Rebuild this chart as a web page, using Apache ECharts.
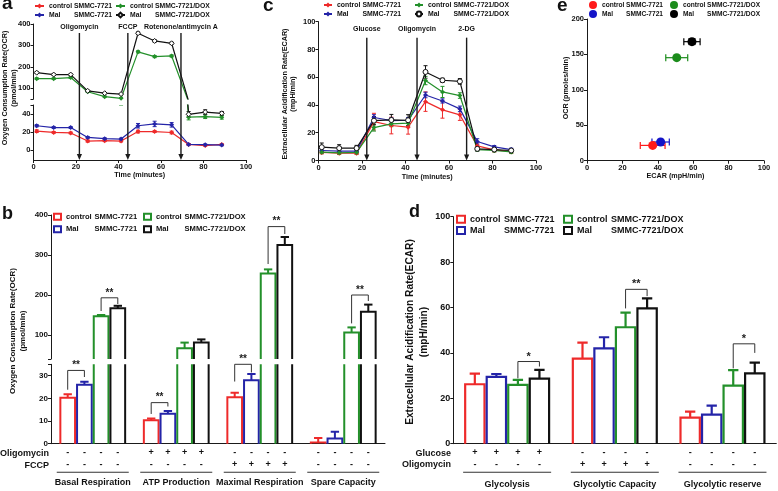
<!DOCTYPE html>
<html><head><meta charset="utf-8">
<script src="https://cdn.jsdelivr.net/npm/echarts@6/dist/echarts.min.js"></script>
<style>html,body{margin:0;padding:0;background:#fff}#main{width:778px;height:491px}</style>
</head><body><div id="main"></div>
<script>
// ---------------- DATA ----------------
const groupWord = ['control', 'Mal', 'control', 'Mal'];
const lineWord = ['SMMC-7721', 'SMMC-7721', 'SMMC-7721/DOX', 'SMMC-7721/DOX'];

// panel a (OCR time course)
const timeMin = [1.5, 9.5, 17.5, 25.5, 33.5, 41.2, 49.2, 57, 65, 73, 80.8, 88.6];
const ocrCtrl = [21, 19.6, 19, 10, 10.4, 10, 20.5, 20.5, 19.5, 6.3, 5, 6.3];
const ocrMal = [27, 25, 25, 14, 12.6, 12.2, 27, 29, 28, 6.3, 6, 5.5];
const ocrCtrlDox = [145, 145, 150, 84, 61, 53, 270, 248, 251, 36.5, 37, 36.3];
const ocrMalDox = [173, 164, 164, 88, 77, 73, 357, 321, 310, 39.7, 42.2, 40.8];
const ocrCtrlErr = [1.5, 1, 1, 1.2, 1, 1, 1.5, 1, 1.5, 0.8, 0.8, 0.8];
const ocrMalErr = [1.2, 1, 1, 1, 1, 1, 2.5, 3, 2.5, 0.8, 0.8, 0.8];
const ocrCtrlDoxErr = [4, 4, 4, 3, 3, 3, 5, 5, 5, 3, 2, 2];
const ocrMalDoxErr = [4, 4, 4, 3, 3, 3, 6, 6, 5, 3, 2.5, 2];
const injectA = [21.6, 44.4, 69.4];
const injectALabels = ['Oligomycin', 'FCCP', 'Rotenone/antimycin A'];

// panel c (ECAR time course)
const ecarCtrl = [5.8, 5.3, 5.3, 28, 25.2, 24, 42.4, 36.5, 32.9, 10.5, 7.7, 6.5];
const ecarMal = [7.2, 6.7, 6.7, 31, 28.8, 29, 47.2, 42.9, 37.2, 13.7, 9.8, 7.9];
const ecarCtrlDox = [6, 5.5, 5.8, 23.7, 26.4, 26.9, 57.6, 49.4, 46.8, 7.9, 7.2, 6.2];
const ecarMalDox = [9.6, 8.9, 8.9, 28.7, 29.2, 29, 63.8, 57.8, 57, 8.4, 7.9, 7.2];
const ecarCtrlErr = [1, 1, 1, 6, 6, 5, 7, 6, 4, 2, 1.5, 1.5];
const ecarMalErr = [1, 1, 1, 2, 2, 2, 2, 1.5, 2, 2, 1, 1];
const ecarCtrlDoxErr = [1, 1, 1, 2.5, 2, 2, 3, 4, 2, 1, 1, 1];
const ecarMalDoxErr = [3, 2.5, 2, 3, 4, 4, 4.5, 1.5, 2, 1.5, 1, 1];
const injectC = [22.2, 45.3, 68.1];
const injectCLabels = ['Glucose', 'Oligomycin', '2-DG'];

// panel e (energy map)
const eEcar = [37.1, 41.6, 50.7, 59.3];
const eOcr = [21.6, 26.4, 145.4, 168];
const eEcarErr = [7, 4.9, 6.2, 4.6];
const eOcrErr = [1, 1, 1.5, 4];

// panel b (OCR parameters)
const catsB = ['Basal Respiration', 'ATP Production', 'Maximal Respiration', 'Spare Capacity'];
const bCtrl = [20.3, 10.3, 20.5, 0.5];
const bMal = [26, 13.2, 28, 2.3];
const bCtrlDox = [147, 67, 254, 106];
const bMalDox = [167, 81, 325, 158];
const bCtrlErr = [1.5, 0.8, 2, 2];
const bMalErr = [1.3, 1.2, 2.7, 3];
const bCtrlDoxErr = [3, 14, 10, 13];
const bMalDoxErr = [6, 8, 20, 18];
const oligoB = ['----', '++++', '----', '----'];
const fccpB = ['----', '----', '++++', '----'];
// [category, barA, barB, bracketTop, legA, legB, text]
const sigB = [
  [0, 0, 1, 32.3, 23.8, 29.4, '**'],
  [0, 2, 3, 193, 160, 177.5, '**'],
  [1, 0, 1, 18.1, 13.1, 16.4, '**'],
  [2, 0, 1, 35, 27.4, 31.4, '**'],
  [2, 2, 3, 371, 277.5, 352.5, '**'],
  [3, 2, 3, 200, 129, 185, '**']
];

// panel d (ECAR parameters)
const catsD = ['Glycolysis', 'Glycolytic Capacity', 'Glycolytic reserve'];
const dCtrl = [26.2, 37.5, 11.5];
const dMal = [29.4, 42, 12.8];
const dCtrlDox = [25.9, 51.3, 25.6];
const dMalDox = [28.7, 59.6, 31];
const dCtrlErr = [4.7, 7, 2.6];
const dMalErr = [1.3, 4.9, 4];
const dCtrlDoxErr = [2.2, 6.4, 6.8];
const dMalDoxErr = [3.8, 4.4, 4.7];
const glucoseD = ['++++', '----', '----'];
const oligoD = ['----', '++++', '----'];
const sigD = [
  [0, 2, 3, 36.2, 28.8, 34, '*'],
  [1, 2, 3, 68, 59.6, 65, '**'],
  [2, 2, 3, 44, 33.2, 40, '*']
];

// ---------------- STYLE ----------------
const FF = '"Liberation Sans", Arial, Helvetica, sans-serif';
const COL = ['#ee2a2a', '#2424a8', '#23902a', '#111111'];
const INK = '#1a1a1a';

const chart = echarts.init(document.getElementById('main'), null, {renderer: 'canvas'});

function axLine() { return {show: true, onZero: false, lineStyle: {color: INK, width: 1}}; }
function axTick(extra) { return Object.assign({show: true, length: 3, lineStyle: {color: INK, width: 1}}, extra || {}); }
function axLabel(fs, extra) { return Object.assign({color: '#111', fontSize: fs, fontWeight: 'bold', fontFamily: FF, margin: 3}, extra || {}); }
function nameStyle(fs) { return {color: '#111', fontSize: fs, fontWeight: 'bold', fontFamily: FF}; }

function errSeries(ai, xs, ys, es, color, cap) {
  return {
    type: 'custom', xAxisIndex: ai, yAxisIndex: ai, clip: true, silent: true, z: 2,
    data: xs.map((x, i) => [x, ys[i], es[i]]),
    renderItem(params, api) {
      const x = api.value(0), y = api.value(1), e = api.value(2);
      const p1 = api.coord([x, y + e]), p2 = api.coord([x, y - e]);
      const st = {stroke: color, lineWidth: 1};
      return {type: 'group', children: [
        {type: 'line', shape: {x1: p1[0], y1: p1[1], x2: p2[0], y2: p2[1]}, style: st},
        {type: 'line', shape: {x1: p1[0] - cap, y1: p1[1], x2: p1[0] + cap, y2: p1[1]}, style: st},
        {type: 'line', shape: {x1: p2[0] - cap, y1: p2[1], x2: p2[0] + cap, y2: p2[1]}, style: st}
      ]};
    }
  };
}

function arrowSeries(ai, xs, labels, topV, labV, fs) {
  return {
    type: 'custom', xAxisIndex: ai, yAxisIndex: ai, clip: false, silent: true, z: 6,
    data: xs.map(x => [x, 0]),
    renderItem(params, api) {
      const x = api.value(0);
      const b = api.coord([x, 0]), t = api.coord([x, topV]), l = api.coord([x, labV]);
      return {type: 'group', children: [
        {type: 'line', shape: {x1: b[0], y1: t[1], x2: b[0], y2: b[1] - 5}, style: {stroke: INK, lineWidth: 1.4}},
        {type: 'polygon', shape: {points: [[b[0] - 2.6, b[1] - 6], [b[0] + 2.6, b[1] - 6], [b[0], b[1]]]}, style: {fill: INK}},
        {type: 'text', x: l[0], y: l[1], style: {text: labels[params.dataIndex], fill: '#111', fontSize: fs, fontWeight: 'bold', fontFamily: FF, align: 'center', verticalAlign: 'middle'}}
      ]};
    }
  };
}

function barSeries(name, ai, k, vals, errs, capFrac, lw) {
  const color = COL[k];
  return {
    type: 'custom', name, xAxisIndex: ai, yAxisIndex: ai, clip: true, z: 3,
    data: vals.map((v, i) => [i, v, errs[i]]),
    renderItem(params, api) {
      const i = api.value(0), v = api.value(1), e = api.value(2);
      const band = api.size([1, 0])[0];
      const bw = band * 0.8 / 4;
      const base = api.coord([i, 0]);
      const top = api.coord([i, v]);
      const et = api.coord([i, v + e]);
      const xc = base[0] + (k - 1.5) * bw;
      const xl = xc - bw / 2 + lw / 2, xr = xc + bw / 2 - lw / 2;
      const st = {stroke: color, lineWidth: lw, fill: null};
      return {type: 'group', children: [
        {type: 'polyline', shape: {points: [[xl, base[1] + 2], [xl, top[1]], [xr, top[1]], [xr, base[1] + 2]]}, style: st},
        {type: 'line', shape: {x1: xc, y1: top[1], x2: xc, y2: et[1]}, style: st},
        {type: 'line', shape: {x1: xc - bw * capFrac, y1: et[1], x2: xc + bw * capFrac, y2: et[1]}, style: st}
      ]};
    }
  };
}

function sigSeries(ai, rows, fs) {
  return {
    type: 'custom', xAxisIndex: ai, yAxisIndex: ai, clip: false, silent: true, z: 4,
    data: rows.map(r => [r[0], r[3], r[1], r[2], r[4], r[5]]),
    renderItem(params, api) {
      const cat = api.value(0), top = api.value(1), a = api.value(2), b = api.value(3);
      const la = api.value(4), lb = api.value(5);
      const band = api.size([1, 0])[0];
      const bw = band * 0.8 / 4;
      const c = api.coord([cat, top]);
      const xa = c[0] + (a - 1.5) * bw, xb = c[0] + (b - 1.5) * bw;
      const ya = api.coord([cat, la])[1], yb = api.coord([cat, lb])[1];
      return {type: 'group', children: [
        {type: 'polyline', shape: {points: [[xa, ya], [xa, c[1]], [xb, c[1]], [xb, yb]]}, style: {stroke: '#333', lineWidth: 1, fill: null}},
        {type: 'text', x: (xa + xb) / 2, y: c[1] - 5, style: {text: rows[params.dataIndex][6], fill: '#222', fontSize: fs, fontWeight: 'bold', fontFamily: FF, align: 'center', verticalAlign: 'middle'}}
      ]};
    }
  };
}

function signRow(s) { return s.split('').map(ch => '{p|' + ch + '}').join(''); }

function legendItem(name, k, left, cy, o) {
  const base = {fontSize: o.fs, fontWeight: 'bold', fontFamily: FF, color: '#111', lineHeight: o.lh};
  return {
    show: true, selectedMode: false, orient: 'horizontal', left: left, top: cy - o.lh / 2, padding: 0,
    itemWidth: o.iw, itemHeight: o.ih, itemGap: 0,
    data: [Object.assign({name: name}, o.item ? o.item(k) : {})],
    formatter: () => '{n|' + groupWord[k] + '}{s|' + lineWord[k] + '}',
    textStyle: Object.assign({}, base, {rich: {n: Object.assign({width: o.nw}, base), s: Object.assign({}, base)}})
  };
}

function text(t, x, y, fs, extra) {
  return {type: 'text', x: x, y: y, silent: true, rotation: extra && extra.rot ? Math.PI / 2 : 0,
    style: {text: t, fill: '#111', fontSize: fs, fontWeight: 'bold', fontFamily: FF,
      align: (extra && extra.align) || 'center', verticalAlign: 'middle', lineHeight: (extra && extra.lh) || fs * 1.2}};
}

// ---------------- OPTION ----------------
const series = [];
const legends = [];

// panel a
const ocrSets = [ocrCtrl, ocrMal, ocrCtrlDox, ocrMalDox];
const ocrErrs = [ocrCtrlErr, ocrMalErr, ocrCtrlDoxErr, ocrMalDoxErr];
ocrSets.forEach((vals, k) => {
  [0, 1].forEach(g => {
    series.push({
      type: 'line', name: 'a' + k, xAxisIndex: g, yAxisIndex: g, clip: true, z: 3,
      data: timeMin.map((t, i) => [t, vals[i]]),
      symbol: 'diamond', symbolSize: 5,
      lineStyle: {color: COL[k], width: 1.2},
      itemStyle: k === 3 ? {color: '#fff', borderColor: COL[k], borderWidth: 1} : {color: COL[k]}
    });
    series.push(errSeries(g, timeMin, vals, ocrErrs[k], COL[k], 2));
  });
});
series.push(arrowSeries(2, injectA, injectALabels, 0.934, 0.978, 7));

// panel c
const ecarSets = [ecarCtrl, ecarMal, ecarCtrlDox, ecarMalDox];
const ecarErrs = [ecarCtrlErr, ecarMalErr, ecarCtrlDoxErr, ecarMalDoxErr];
ecarSets.forEach((vals, k) => {
  series.push({
    type: 'line', name: 'c' + k, xAxisIndex: 3, yAxisIndex: 3, z: 3,
    data: timeMin.map((t, i) => [t, vals[i]]),
    symbol: k === 3 ? 'circle' : 'diamond', symbolSize: 5,
    lineStyle: {color: COL[k], width: 1.2},
    itemStyle: k === 3 ? {color: '#fff', borderColor: COL[k], borderWidth: 1} : {color: COL[k]}
  });
  series.push(errSeries(3, timeMin, vals, ecarErrs[k], COL[k], 2));
});
series.push(arrowSeries(3, injectC, injectCLabels, 88.5, 94.5, 7));

// panel e
const eCol = ['#ff1a1a', '#1414c8', '#1c8c1c', '#000000'];
eEcar.forEach((x, k) => {
  series.push({type: 'scatter', name: 'e' + k, xAxisIndex: 4, yAxisIndex: 4, z: 4, symbolSize: 9,
    itemStyle: {color: eCol[k], opacity: 1}, data: [[x, eOcr[k]]]});
  series.push({
    type: 'custom', xAxisIndex: 4, yAxisIndex: 4, silent: true, z: 3,
    data: [[x, eOcr[k], eEcarErr[k], eOcrErr[k]]],
    renderItem(params, api) {
      const cx = api.value(0), cy = api.value(1), ex = api.value(2), ey = api.value(3);
      const l = api.coord([cx - ex, cy]), r = api.coord([cx + ex, cy]);
      const t = api.coord([cx, cy + ey]), b = api.coord([cx, cy - ey]);
      const st = {stroke: eCol[k], lineWidth: 1.2};
      return {type: 'group', children: [
        {type: 'line', shape: {x1: l[0], y1: l[1], x2: r[0], y2: r[1]}, style: st},
        {type: 'line', shape: {x1: l[0], y1: l[1] - 3.5, x2: l[0], y2: l[1] + 3.5}, style: st},
        {type: 'line', shape: {x1: r[0], y1: r[1] - 3.5, x2: r[0], y2: r[1] + 3.5}, style: st},
        {type: 'line', shape: {x1: t[0], y1: t[1], x2: b[0], y2: b[1]}, style: st},
        {type: 'line', shape: {x1: t[0] - 3.5, y1: t[1], x2: t[0] + 3.5, y2: t[1]}, style: st},
        {type: 'line', shape: {x1: b[0] - 3.5, y1: b[1], x2: b[0] + 3.5, y2: b[1]}, style: st}
      ]};
    }
  });
});

// panel b
const bSets = [bCtrl, bMal, bCtrlDox, bMalDox];
const bErrs = [bCtrlErr, bMalErr, bCtrlDoxErr, bMalDoxErr];
bSets.forEach((vals, k) => {
  series.push(barSeries('b' + k, 5, k, vals, bErrs[k], 0.25, 2));
  series.push(barSeries('b' + k, 6, k, vals, bErrs[k], 0.25, 2));
});
series.push(sigSeries(6, sigB.filter(r => r[3] < 40), 10));
series.push(sigSeries(5, sigB.filter(r => r[3] >= 40), 10));

// panel d
const dSets = [dCtrl, dMal, dCtrlDox, dMalDox];
const dErrs = [dCtrlErr, dMalErr, dCtrlDoxErr, dMalDoxErr];
dSets.forEach((vals, k) => {
  series.push(barSeries('d' + k, 7, k, vals, dErrs[k], 0.24, 2.2));
});
series.push(sigSeries(7, sigD, 11));

// legends
const rectItem = kk => ({icon: 'rect', itemStyle: {color: '#fff', borderColor: COL[kk], borderWidth: 2}});
[0, 1, 2, 3].forEach(k => {
  const row = k % 2, c = k >= 2;
  legends.push(legendItem('a' + k, k, c ? 115 : 34, row ? 15 : 6, {fs: 6.8, lh: 9, iw: 9, ih: 6, nw: 25}));
  legends.push(legendItem('c' + k, k, c ? 414 : 323, row ? 14 : 5, {fs: 6.9, lh: 9, iw: 8, ih: 6, nw: 25.5}));
  legends.push(legendItem('e' + k, k, c ? 670 : 589, row ? 14 : 5, {fs: 6.6, lh: 9, iw: 8, ih: 8, nw: 24}));
  legends.push(legendItem('b' + k, k, c ? 143 : 53, row ? 229.3 : 216.7, {fs: 7.6, lh: 10, iw: 7, ih: 6, nw: 28.5, item: rectItem}));
  legends.push(legendItem('d' + k, k, c ? 563 : 456, row ? 230.5 : 219.3, {fs: 9, lh: 11, iw: 8, ih: 7, nw: 34, item: rectItem}));
});

const option = {
  animation: false,
  backgroundColor: '#fff',
  legend: legends,
  grid: [
    {left: 33.5, top: 24, width: 212.5, height: 75},
    {left: 33.5, top: 105, width: 212.5, height: 55},
    {left: 33.5, top: 24, width: 212.5, height: 136},
    {left: 318.5, top: 21.7, width: 217.5, height: 138.8},
    {left: 587, top: 19, width: 177, height: 141.7},
    {left: 51, top: 215, width: 334, height: 144},
    {left: 51, top: 364.3, width: 334, height: 79.4},
    {left: 453.3, top: 216.7, width: 323, height: 227}
  ],
  xAxis: [
    {gridIndex: 0, type: 'value', min: 0, max: 100, show: false},
    {gridIndex: 1, type: 'value', min: 0, max: 100, interval: 20, axisLine: axLine(), axisTick: axTick(), axisLabel: axLabel(7.5), splitLine: {show: false},
      name: 'Time (minutes)', nameLocation: 'middle', nameGap: 11, nameTextStyle: nameStyle(7.2)},
    {gridIndex: 2, type: 'value', min: 0, max: 100, show: false},
    {gridIndex: 3, type: 'value', min: 0, max: 100, interval: 20, axisLine: axLine(), axisTick: axTick(), axisLabel: axLabel(7.5), splitLine: {show: false},
      name: 'Time (minutes)', nameLocation: 'middle', nameGap: 13, nameTextStyle: nameStyle(7.2)},
    {gridIndex: 4, type: 'value', min: 0, max: 100, interval: 20, axisLine: axLine(), axisTick: axTick(), axisLabel: axLabel(7.5), splitLine: {show: false},
      name: 'ECAR (mpH/min)', nameLocation: 'middle', nameGap: 12, nameTextStyle: nameStyle(7.2)},
    {gridIndex: 5, type: 'category', data: catsB, show: false},
    {gridIndex: 6, type: 'category', data: catsB, axisLine: axLine(), axisTick: {show: false},
      axisLabel: {interval: 0, margin: 3, color: '#111', fontFamily: FF, fontWeight: 'bold', fontSize: 9,
        formatter: (v, i) => signRow(oligoB[i]) + '\n' + signRow(fccpB[i]) + '\n{u| }\n{c|' + v + '}',
        rich: {
          p: {width: 16.7, align: 'center', fontSize: 9, fontWeight: 'bold', fontFamily: FF, color: '#111', lineHeight: 12},
          u: {width: 72, height: 1, lineHeight: 3, fontSize: 1, backgroundColor: '#333', align: 'center'},
          c: {fontSize: 9, fontWeight: 'bold', fontFamily: FF, color: '#111', lineHeight: 18.6, align: 'center'}
        }}},
    {gridIndex: 7, type: 'category', data: catsD, axisLine: axLine(), axisTick: {show: false},
      axisLabel: {interval: 0, margin: 3, color: '#111', fontFamily: FF, fontWeight: 'bold', fontSize: 9,
        formatter: (v, i) => signRow(glucoseD[i]) + '\n' + signRow(oligoD[i]) + '\n{u| }\n{c|' + v + '}',
        rich: {
          p: {width: 21.5, align: 'center', fontSize: 9, fontWeight: 'bold', fontFamily: FF, color: '#111', lineHeight: 12},
          u: {width: 88, height: 1, lineHeight: 3, fontSize: 1, backgroundColor: '#333', align: 'center'},
          c: {fontSize: 9, fontWeight: 'bold', fontFamily: FF, color: '#111', lineHeight: 22, align: 'center'}
        }}}
  ],
  yAxis: [
    {gridIndex: 0, type: 'value', min: 50, max: 400, axisLine: axLine(), axisTick: axTick({customValues: [50, 100, 200, 300, 400]}),
      axisLabel: axLabel(7.5, {customValues: [100, 200, 300, 400]}), splitLine: {show: false}},
    {gridIndex: 1, type: 'value', min: -11, max: 50, axisLine: axLine(), axisTick: axTick({customValues: [0, 20, 40, 50]}),
      axisLabel: axLabel(7.5, {customValues: [0, 20, 40]}), splitLine: {show: false}},
    {gridIndex: 2, type: 'value', min: 0, max: 1, show: false},
    {gridIndex: 3, type: 'value', min: 0, max: 100, interval: 20, axisLine: axLine(), axisTick: axTick(), axisLabel: axLabel(7.5), splitLine: {show: false}},
    {gridIndex: 4, type: 'value', min: 0, max: 200, interval: 50, axisLine: axLine(), axisTick: axTick(), axisLabel: axLabel(7.5), splitLine: {show: false}},
    {gridIndex: 5, type: 'value', min: 40, max: 400, axisLine: axLine(), axisTick: axTick({customValues: [40, 100, 200, 300, 400]}),
      axisLabel: axLabel(8, {customValues: [100, 200, 300, 400]}), splitLine: {show: false}},
    {gridIndex: 6, type: 'value', min: 0, max: 35, axisLine: axLine(), axisTick: axTick({customValues: [0, 10, 20, 30, 35]}),
      axisLabel: axLabel(8, {customValues: [0, 10, 20, 30]}), splitLine: {show: false}},
    {gridIndex: 7, type: 'value', min: 0, max: 100, interval: 20, axisLine: axLine(), axisTick: axTick(), axisLabel: axLabel(9), splitLine: {show: false}}
  ],
  series: series,
  graphic: [
    text('a', 2, 3.5, 19, {align: 'left'}),
    text('c', 263, 5.5, 19, {align: 'left'}),
    text('e', 557, 5.5, 19, {align: 'left'}),
    text('b', 2, 214, 18, {align: 'left'}),
    text('d', 409, 212, 18, {align: 'left'}),
    text('Oxygen Consumption Rate(OCR)\n(pmol/min)', 9.5, 88, 7.3, {rot: true, lh: 9}),
    text('Extracellular Acidification Rate(ECAR)\n(mpH/min)', 289, 94, 7.2, {rot: true, lh: 8.5}),
    text('OCR (pmoles/min)', 566, 88, 7.2, {rot: true}),
    text('Oxygen Consumption Rate(OCR)\n(pmol/min)', 18, 331, 8, {rot: true, lh: 10}),
    text('Extracellular Acidification Rate(ECAR)\n(mpH/min)', 417.5, 332, 10.2, {rot: true, lh: 14}),
    text('Oligomycin', 49, 453.3, 9, {align: 'right'}),
    text('FCCP', 49, 466, 9, {align: 'right'}),
    text('Glucose', 451, 453.3, 9, {align: 'right'}),
    text('Oligomycin', 451, 465, 9, {align: 'right'})
  ]
};
chart.setOption(option);
</script>
</body></html>
